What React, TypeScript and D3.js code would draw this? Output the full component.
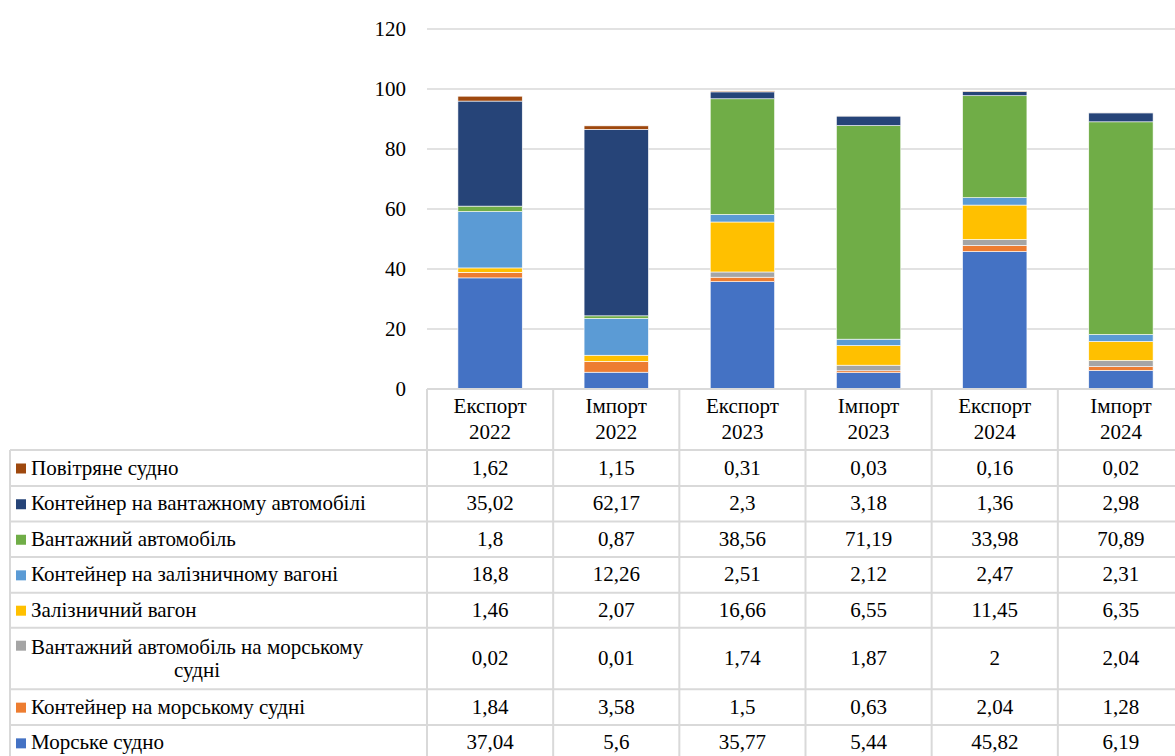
import React from 'react';
import * as d3 from 'd3';

// categories on the x axis (two lines each)
const categories = ['Експорт 2022', 'Імпорт 2022', 'Експорт 2023', 'Імпорт 2023', 'Експорт 2024', 'Імпорт 2024'];

// series, bottom of stack first
const seriesNames = [
    'Морське судно',
    'Контейнер на морському судні',
    'Вантажний автомобіль на морському судні',
    'Залізничний вагон',
    'Контейнер на залізничному вагоні',
    'Вантажний автомобіль',
    'Контейнер на вантажному автомобілі',
    'Повітряне судно',
];
const seriesColors = ['#4472C4', '#ED7D31', '#A5A5A5', '#FFC000', '#5B9BD5', '#70AD47', '#264478', '#9E480E'];

const morskeSudno = [37.04, 5.6, 35.77, 5.44, 45.82, 6.19];
const kontMorske = [1.84, 3.58, 1.5, 0.63, 2.04, 1.28];
const vantMorske = [0.02, 0.01, 1.74, 1.87, 2, 2.04];
const zaliznVagon = [1.46, 2.07, 16.66, 6.55, 11.45, 6.35];
const kontZalizn = [18.8, 12.26, 2.51, 2.12, 2.47, 2.31];
const vantAvto = [1.8, 0.87, 38.56, 71.19, 33.98, 70.89];
const kontAvto = [35.02, 62.17, 2.3, 3.18, 1.36, 2.98];
const povitryane = [1.62, 1.15, 0.31, 0.03, 0.16, 0.02];

const seriesValues = [morskeSudno, kontMorske, vantMorske, zaliznVagon, kontZalizn, vantAvto, kontAvto, povitryane];

const yTicks = [0, 20, 40, 60, 80, 100, 120];

const GRID = '#D9D9D9';

const App = () => {
    const width = 1175;
    const height = 756;
    const plotLeft = 427;
    const plotRight = 1184;

    const x = d3.scaleBand<string>().domain(categories).range([plotLeft, plotRight]).paddingInner(0.49).paddingOuter(0.245);
    const y = d3.scaleLinear().domain([0, 120]).range([389, 29]);
    const step = x.step();
    const colLeft = (i: number) => plotLeft + i * step;

    // table rows built from series, top row = last series
    const rows = seriesNames.map((name, i) => ({ name, color: seriesColors[i], values: seriesValues[i] })).reverse();

    const table = categories.map((c, j) => {
        const o: Record<string, number | string> = { cat: c };
        seriesNames.forEach((s, i) => (o[s] = seriesValues[i][j]));
        return o;
    });
    const stacked = d3.stack<Record<string, number | string>>().keys(seriesNames).value((d, k) => d[k] as number)(table);

    // row geometry
    const headerTop = y(0);
    const headerBottom = 450;
    const rowHeights = [36, 35.5, 35.5, 35.7, 35, 61.6, 35.7, 35.7];
    const rowTops: number[] = [];
    let acc = headerBottom;
    rowHeights.forEach((h) => {
        rowTops.push(acc);
        acc += h;
    });
    const tableBottom = acc;

    const fmt = (v: number) => String(v).replace('.', ',');

    return (
        <svg width={width} height={height} style={{ position: 'absolute', left: 0, top: 0, background: '#fff' }}>
            <g style={{ fontFamily: 'Liberation Serif', fontSize: 21 }} fill="#000">
                {/* gridlines */}
                {yTicks.filter((t) => t > 0).map((t) => (
                    <line key={t} x1={plotLeft} x2={width} y1={y(t)} y2={y(t)} stroke={GRID} strokeWidth={1.5} />
                ))}
                {yTicks.map((t) => (
                    <text key={'l' + t} x={406} y={y(t) + 7} textAnchor="end">{t}</text>
                ))}

                {/* bars */}
                {stacked.map((layer, i) => (
                    <g key={layer.key} fill={seriesColors[i]}>
                        {layer.map((d, j) => (
                            <rect key={j} x={x(categories[j])} width={x.bandwidth()} y={y(d[1])} height={Math.max(0, y(d[0]) - y(d[1]))}
                                stroke="#fff" strokeWidth={0.6} />
                        ))}
                    </g>
                ))}

                {/* data table */}
                <g stroke={GRID} strokeWidth={2}>
                    <line x1={plotLeft} x2={width} y1={headerTop} y2={headerTop} />
                    {rowTops.map((t, i) => (
                        <line key={i} x1={10} x2={width} y1={t} y2={t} />
                    ))}
                    <line x1={10} x2={width} y1={tableBottom} y2={tableBottom} />
                    <line x1={10} x2={10} y1={headerBottom} y2={tableBottom} />
                    {categories.map((c, i) => (
                        <line key={c} x1={colLeft(i)} x2={colLeft(i)} y1={headerTop} y2={tableBottom} />
                    ))}
                </g>

                {categories.map((c, i) => {
                    const [a, b] = c.split(' ');
                    const cx = colLeft(i) + step / 2;
                    return (
                        <text key={c} x={cx} textAnchor="middle">
                            <tspan x={cx} y={413}>{a}</tspan>
                            <tspan x={cx} y={439}>{b}</tspan>
                        </text>
                    );
                })}

                {rows.map((r, i) => {
                    const top = rowTops[i];
                    const h = rowHeights[i];
                    const base = top + h / 2 + 6.5;
                    const twoLine = r.name === 'Вантажний автомобіль на морському судні';
                    return (
                        <g key={r.name}>
                            {twoLine ? (
                                <>
                                    <rect x={16} y={top + 13} width={10} height={10} fill={r.color} />
                                    <text x={31} y={top + 26}>Вантажний автомобіль на морському</text>
                                    <text x={197} y={top + 49} textAnchor="middle">судні</text>
                                </>
                            ) : (
                                <>
                                    <rect x={16} y={base - 11} width={10} height={10} fill={r.color} />
                                    <text x={31} y={base}>{r.name}</text>
                                </>
                            )}
                            {r.values.map((v, j) => (
                                <text key={j} x={colLeft(j) + step / 2} y={base} textAnchor="middle">{fmt(v)}</text>
                            ))}
                        </g>
                    );
                })}
            </g>
        </svg>
    );
};

export default App;
